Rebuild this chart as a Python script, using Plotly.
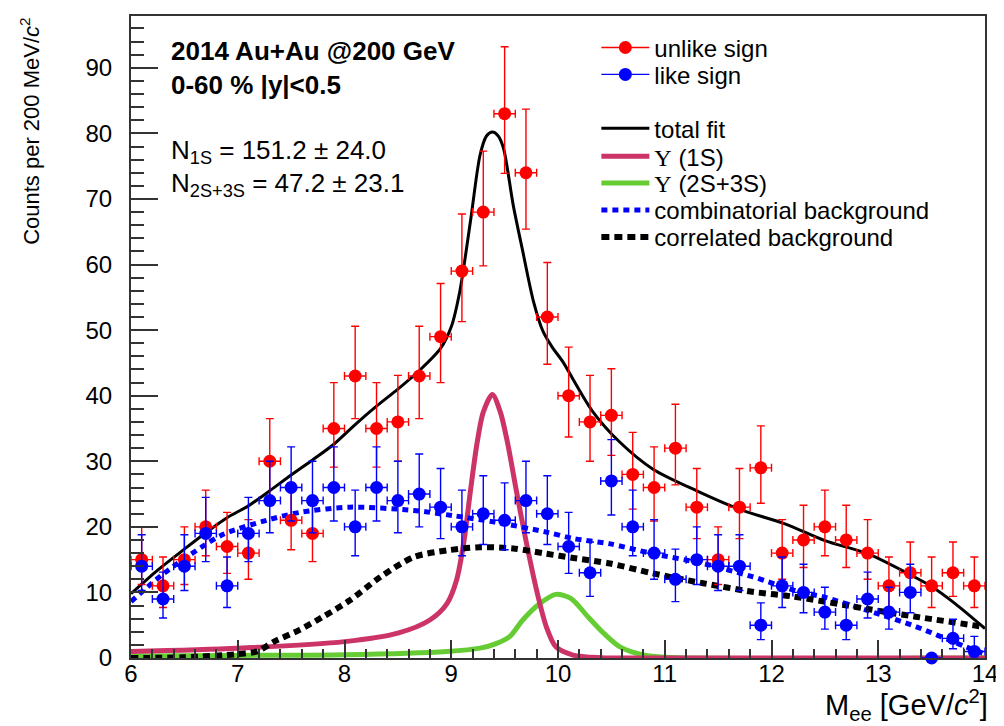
import plotly.graph_objects as go

# ---------------- data ----------------
mass = [6.1, 6.3, 6.5, 6.7, 6.9, 7.1, 7.3, 7.5, 7.7, 7.9,
        8.1, 8.3, 8.5, 8.7, 8.9, 9.1, 9.3, 9.5, 9.7, 9.9,
        10.1, 10.3, 10.5, 10.7, 10.9, 11.1, 11.3, 11.5, 11.7, 11.9,
        12.1, 12.3, 12.5, 12.7, 12.9, 13.1, 13.3, 13.5, 13.7, 13.9]
bin_half_width = 0.1

unlike = [15, 11, 15, 20, 17, 16, 30, 21, 19, 35,
          43, 35, 36, 43, 49, 59, 68, 83, 74, 52,
          40, 36, 37, 28, 26, 32, 23, 15, 23, 29,
          16, 18, 20, 18, 16, 11, 13, 11, 13, 11]
unlike_err_lo = [3.8, 3.3, 3.8, 4.4, 4.1, 4.0, 5.4, 4.5, 4.3, 5.9,
                 6.5, 5.9, 6.0, 6.5, 7.0, 7.7, 8.2, 9.1, 8.6, 7.2,
                 6.3, 6.0, 6.1, 5.3, 5.1, 5.6, 4.8, 3.8, 4.8, 5.4,
                 4.0, 4.2, 4.4, 4.2, 4.0, 3.3, 3.6, 3.3, 3.6, 3.3]
unlike_err_hi = [5.0, 4.4, 5.0, 5.6, 5.2, 5.1, 6.5, 5.7, 5.5, 7.0,
                 7.6, 7.0, 7.1, 7.6, 8.1, 8.7, 9.3, 10.2, 9.7, 8.3,
                 7.4, 7.1, 7.1, 6.4, 6.2, 6.7, 5.9, 5.0, 5.9, 6.4,
                 5.1, 5.3, 5.6, 5.3, 5.1, 4.4, 4.7, 4.4, 4.7, 4.4]

like = [14, 9, 14, 19, 11, 19, 24, 26, 24, 26,
        20, 26, 24, 25, 23, 20, 22, 21, 24, 22,
        17, 13, 27, 20, 16, 12, 15, 14, 14, 5,
        11, 10, 7, 5, 9, 7, 10, 0, 3, 1]
like_err_lo = [3.7, 2.9, 3.7, 4.3, 3.3, 4.3, 4.9, 5.1, 4.9, 5.1,
               4.4, 5.1, 4.9, 5.0, 4.8, 4.4, 4.7, 4.5, 4.9, 4.7,
               4.1, 3.6, 5.2, 4.4, 4.0, 3.4, 3.8, 3.7, 3.7, 2.2,
               3.3, 3.1, 2.6, 2.2, 2.9, 2.6, 3.1, 0.0, 1.6, 0.8]
like_err_hi = [4.8, 4.1, 4.8, 5.5, 4.4, 5.5, 6.0, 6.2, 6.0, 6.2,
               5.6, 6.2, 6.0, 6.1, 5.9, 5.6, 5.8, 5.7, 6.0, 5.8,
               5.2, 4.7, 6.3, 5.6, 5.1, 4.6, 5.0, 4.8, 4.8, 3.4,
               4.4, 4.3, 3.8, 3.4, 4.1, 3.8, 4.3, 0.0, 2.9, 2.3]

fit_total_x = [6.0, 6.25, 6.5, 6.7, 6.9, 7.1, 7.3, 7.5, 7.7, 7.9,
               8.1, 8.3, 8.5, 8.7, 8.9, 9.0, 9.08, 9.18, 9.27, 9.33,
               9.385, 9.44, 9.49, 9.58, 9.67, 9.77, 9.86, 9.95, 10.04, 10.32,
               10.58, 10.89, 11.3, 11.73, 12.12, 12.5, 12.9, 13.31, 13.51, 13.72, 14.0]
fit_total_y = [9.8, 13.4, 16.6, 19.1, 21.4, 23.2, 25.5, 27.9, 30.2, 32.6,
               35.6, 38.4, 41.0, 43.8, 47.2, 50.5, 55.9, 66.6, 76.7, 79.6,
               80.2, 79.6, 77.7, 69.1, 62.0, 54.4, 49.8, 47.3, 45.3, 37.7,
               32.9, 28.8, 25.5, 22.5, 20.5, 17.9, 15.9, 12.6, 10.8, 8.3, 4.5]

ups1s_x = [6.0, 7.0, 8.0, 8.5, 8.8, 8.96, 9.05, 9.12, 9.18, 9.24, 9.3, 9.385,
           9.46, 9.53, 9.61, 9.70, 9.80, 9.89, 9.98, 10.14, 10.4, 11.0, 14.0]
ups1s_y = [1.0, 1.5, 2.5, 3.8, 5.8, 8.3, 11.9, 17.9, 25.5, 32.6, 37.5, 40.2,
           37.5, 32.6, 25.5, 17.9, 10.3, 4.8, 1.7, 0.45, 0.05, 0.0, 0.0]

ups23s_x = [6.0, 7.0, 8.0, 8.96, 9.27, 9.42, 9.55, 9.67, 9.83, 9.98, 10.12,
            10.28, 10.43, 10.58, 10.8, 11.0, 14.0]
ups23s_y = [0.3, 0.4, 0.5, 1.0, 1.5, 2.2, 3.3, 5.8, 8.3, 9.7, 9.1,
            6.3, 3.75, 1.7, 0.46, 0.1, 0.0]

comb_x = [6.0, 6.3, 6.66, 6.87, 7.27, 7.58, 8.05, 8.65, 9.02, 9.42, 9.89,
          10.15, 10.49, 10.89, 11.36, 11.82, 12.26, 12.49, 12.89, 13.35, 13.82, 14.0]
comb_y = [8.6, 12.8, 16.9, 18.9, 21.0, 22.2, 23.0, 22.5, 21.7, 20.7, 19.2,
          18.2, 17.4, 15.9, 14.4, 12.4, 10.1, 9.3, 7.3, 4.8, 1.7, 0.6]

corr_x = [6.0, 6.5, 7.0, 7.18, 7.34, 7.58, 7.8, 8.05, 8.34, 8.65, 8.96, 9.27,
          9.58, 9.89, 10.13, 10.49, 10.89, 11.36, 11.82, 12.19, 12.89, 13.35, 13.97]
corr_y = [0.0, 0.1, 0.6, 1.0, 2.5, 4.3, 6.3, 8.8, 12.4, 15.4, 16.4, 16.9,
          16.7, 15.9, 15.3, 14.4, 12.9, 11.4, 10.1, 9.4, 7.5, 6.3, 4.8]

x_tick_values = [6, 7, 8, 9, 10, 11, 12, 13, 14]
x_tick_labels = ["6", "7", "8", "9", "10", "11", "12", "13", "14"]

legend_labels = ["unlike sign", "like sign", "total fit",
                 "<span style=\"font-family:'Liberation Serif',serif\">\u03a5</span> (1S)",
                 "<span style=\"font-family:'Liberation Serif',serif\">\u03a5</span> (2S+3S)",
                 "combinatorial background", "correlated background"]

# ---------------- styling ----------------
FONT = "Liberation Sans, Arial, Helvetica, sans-serif"
RED = "#ff0000"
BLUE = "#0000ff"
PINK = "#cc3366"
GREEN = "#66cc33"

# the page body has an 8px margin, so the figure sits 8px in from the window's corner
BODY = 8
W, H = 1004 - BODY, 726 - BODY
PAGE_L, PAGE_R, PAGE_T, PAGE_B = 131, 988, 14, 658   # plot area in window pixels
ML, MR, MT, MB = PAGE_L - BODY, W - (PAGE_R - BODY), PAGE_T - BODY, H - (PAGE_B - BODY)


def px_x(px):
    return (px - PAGE_L) / (PAGE_R - PAGE_L)


def px_y(py):
    return (PAGE_B - py) / (PAGE_B - PAGE_T)


fig = go.Figure()

# curves
fig.add_trace(go.Scatter(x=ups23s_x, y=ups23s_y, mode="lines", showlegend=False,
                         line=dict(color=GREEN, width=5, shape="spline", smoothing=0.8)))
fig.add_trace(go.Scatter(x=ups1s_x, y=ups1s_y, mode="lines", showlegend=False,
                         line=dict(color=PINK, width=5, shape="spline", smoothing=0.8)))
fig.add_trace(go.Scatter(x=comb_x, y=comb_y, mode="lines", showlegend=False,
                         line=dict(color=BLUE, width=5, dash="6px,5px", shape="spline", smoothing=0.8)))
fig.add_trace(go.Scatter(x=corr_x, y=corr_y, mode="lines", showlegend=False,
                         line=dict(color="black", width=6, dash="7px,5px", shape="spline", smoothing=0.8)))
fig.add_trace(go.Scatter(x=fit_total_x, y=fit_total_y, mode="lines", showlegend=False,
                         line=dict(color="black", width=3, shape="spline", smoothing=0.8)))

# data points
fig.add_trace(go.Scatter(
    x=mass, y=unlike, mode="markers", showlegend=False, cliponaxis=False,
    marker=dict(color=RED, size=13),
    error_y=dict(type="data", symmetric=False, array=unlike_err_hi, arrayminus=unlike_err_lo,
                 color=RED, thickness=1.4, width=4),
    error_x=dict(type="constant", value=bin_half_width, color=RED, thickness=1.4, width=4)))
fig.add_trace(go.Scatter(
    x=mass, y=like, mode="markers", showlegend=False, cliponaxis=False,
    marker=dict(color=BLUE, size=13),
    error_y=dict(type="data", symmetric=False, array=like_err_hi, arrayminus=like_err_lo,
                 color=BLUE, thickness=1.4, width=4),
    error_x=dict(type="constant", value=bin_half_width, color=BLUE, thickness=1.4, width=4)))

# legend proxies, one legend each for exact row placement
legend_styles = [
    dict(mode="lines+markers", line=dict(color=RED, width=1.4), marker=dict(color=RED, size=13)),
    dict(mode="lines+markers", line=dict(color=BLUE, width=1.4), marker=dict(color=BLUE, size=13)),
    dict(mode="lines", line=dict(color="black", width=3)),
    dict(mode="lines", line=dict(color=PINK, width=5)),
    dict(mode="lines", line=dict(color=GREEN, width=5)),
    dict(mode="lines", line=dict(color=BLUE, width=5, dash="6px,5px")),
    dict(mode="lines", line=dict(color="black", width=6, dash="8px,5px")),
]
legend_rows_px = [46, 73, 127, 155, 182, 209, 236]
layout_legends = {}
for i, (lab, st, row) in enumerate(zip(legend_labels, legend_styles, legend_rows_px)):
    key = "legend" if i == 0 else f"legend{i + 1}"
    fig.add_trace(go.Scatter(x=[None], y=[None], name=lab, legend=key, showlegend=True, **st))
    layout_legends[key] = dict(
        x=px_x(598), y=px_y(row), xanchor="left", yanchor="middle",
        bgcolor="rgba(0,0,0,0)", borderwidth=0, itemwidth=48,
        font=dict(family=FONT, size=24, color="black"))

annotations = [
    dict(text="<b>2014 Au+Au @200 GeV</b>", x=px_x(169), y=px_y(49), xanchor="left", yanchor="middle",
         font=dict(family=FONT, size=26, color="black")),
    dict(text="<b>0-60 % |y|&lt;0.5</b>", x=px_x(169), y=px_y(83), xanchor="left", yanchor="middle",
         font=dict(family=FONT, size=26, color="black")),
    dict(text="N<sub>1S</sub> = 151.2 \u00b1 24.0", x=px_x(169), y=px_y(150), xanchor="left", yanchor="middle",
         font=dict(family=FONT, size=26, color="black")),
    dict(text="N<sub>2S+3S</sub> = 47.2 \u00b1 23.1", x=px_x(169), y=px_y(183), xanchor="left", yanchor="middle",
         font=dict(family=FONT, size=26, color="black")),
    dict(text="M<sub>ee</sub> [GeV/<i>c</i><sup>2</sup>]", x=px_x(993), y=px_y(705), xanchor="right",
         yanchor="middle", font=dict(family=FONT, size=29, color="black")),
    dict(text="Counts per 200 MeV/<i>c</i><sup>2</sup>", x=px_x(29), y=px_y(14), xanchor="center",
         yanchor="top", textangle=-90,
         font=dict(family=FONT, size=22, color="black")),
]
for a in annotations:
    a.update(xref="paper", yref="paper", showarrow=False)

fig.update_layout(
    width=W, height=H,
    margin=dict(l=ML, r=MR, t=MT, b=MB, pad=0),
    paper_bgcolor="white", plot_bgcolor="white",
    font=dict(family=FONT, size=24, color="black"),
    annotations=annotations,
    **layout_legends,
)
fig.update_xaxes(
    range=[6, 14], showgrid=False, zeroline=False,
    showline=True, linecolor="#333333", linewidth=2, mirror=True,
    ticks="inside", ticklen=18, tickwidth=1.5, tickcolor="#333333",
    tickmode="array", tickvals=x_tick_values, ticktext=x_tick_labels,
    minor=dict(ticks="inside", ticklen=9, tickwidth=1.5, tickcolor="#333333", dtick=0.2, tick0=6),
    tickfont=dict(family=FONT, size=24, color="black"), ticklabelstandoff=-7)
fig.update_yaxes(
    range=[0, 97.9], showgrid=False, zeroline=False,
    showline=True, linecolor="#333333", linewidth=2, mirror=True,
    ticks="inside", ticklen=27, tickwidth=1.5, tickcolor="#333333", dtick=10, tick0=0,
    minor=dict(ticks="inside", ticklen=13, tickwidth=1.5, tickcolor="#333333", dtick=2),
    tickfont=dict(family=FONT, size=24, color="black"), ticklabelstandoff=12)

fig.write_html("out.html")
